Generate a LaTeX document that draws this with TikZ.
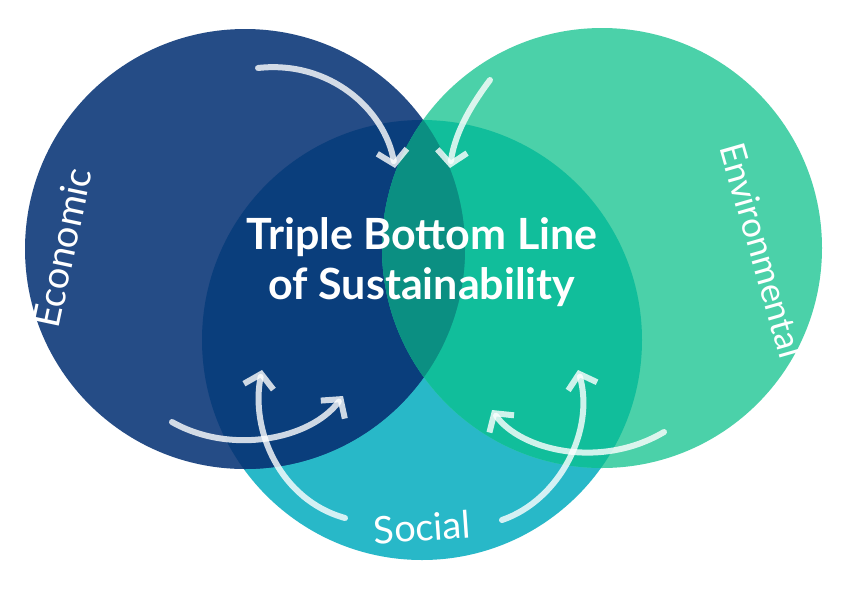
\documentclass[tikz,border=0pt]{standalone}
\usepackage{fontspec}
\setmainfont{Lato}
\usetikzlibrary{arrows.meta}
\definecolor{econ}{HTML}{254C86}
\definecolor{env}{HTML}{4BD1A9}
\definecolor{soc}{HTML}{28B8C8}
\definecolor{es}{HTML}{0A3E7C}
\definecolor{vs}{HTML}{11BE9B}
\definecolor{ev}{HTML}{139F8C}
\definecolor{evs}{HTML}{0B8F82}
\begin{document}
\begin{tikzpicture}[x=1pt,y=-1pt,
  arr/.style={draw=white,draw opacity=0.8,line width=6pt,line cap=round,
    -{Straight Barb[length=13pt,width=30pt,line width=6pt]}},
  lbl/.style={text=white,font=\fontsize{38}{44}\selectfont}]
\useasboundingbox (0,0) rectangle (846,590);
\fill[white] (0,0) rectangle (846,590);
\fill[soc] (422,340) circle (220);
\fill[econ] (245,249) circle (220);
\fill[env] (602,248) circle (220);
\begin{scope}\clip (422,340) circle (220); \fill[es] (245,249) circle (220); \fill[vs] (602,248) circle (220);\end{scope}
\begin{scope}\clip (245,249) circle (220); \fill[ev] (602,248) circle (220);
  \clip (422,340) circle (220); \fill[evs] (602,248) circle (220);\end{scope}
\node[text=white,font=\bfseries\fontsize{43}{50}\selectfont,align=center] (t) at (422,262) {Triple Bottom Line\\of Sustainability};
\node[lbl,rotate=78] (e) at (62,248) {Economic};
\node[lbl,rotate=-74,font=\fontsize{35}{40}\selectfont] (v) at (762,250) {Environmental};
\node[lbl,rotate=4] (s) at (422,527) {Social};
\coordinate (a1) at (258,68); \coordinate (b1) at (395,168);
\coordinate (a2) at (490,80); \coordinate (b2) at (450,168);
\coordinate (a3) at (172,422); \coordinate (b3) at (343,396);
\coordinate (a4) at (345,518); \coordinate (b4) at (262,370);
\coordinate (a5) at (502,520); \coordinate (b5) at (578,370);
\coordinate (a6) at (664,432); \coordinate (b6) at (492,410);
\draw[arr] (a1) .. controls (330,60) and (385,110) .. (b1);
\draw[arr] (a2) .. controls (475,100) and (455,130) .. (b2);
\draw[arr] (a3) .. controls (230,455) and (310,440) .. (b3);
\draw[arr] (a4) .. controls (280,500) and (250,430) .. (b4);
\draw[arr] (a5) .. controls (560,500) and (595,430) .. (b5);
\draw[arr] (a6) .. controls (600,470) and (520,450) .. (b6);
\end{tikzpicture}
\end{document}
